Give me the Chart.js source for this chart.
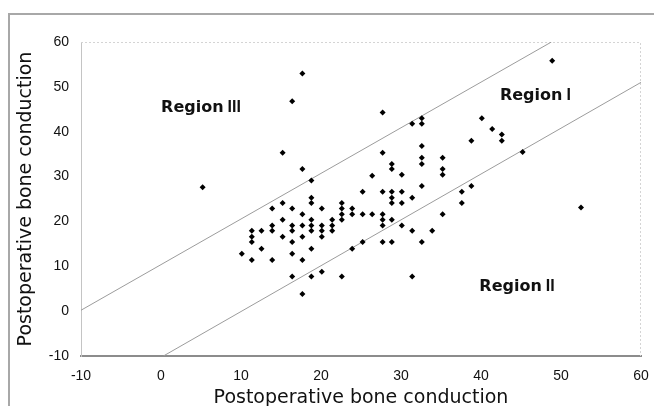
<!DOCTYPE html>
<html lang="en">
<head>
<meta charset="UTF-8">
<meta name="viewport" content="width=device-width, initial-scale=1.0">
<title>Postoperative bone conduction</title>
<script src="https://cdn.jsdelivr.net/npm/chart.js"></script>
<style>
    html, body { margin: 0; padding: 0; background: #fff; }
    body { width: 654px; height: 406px; position: relative; overflow: hidden; }
    .frame {
        position: absolute; left: 8px; top: 13px;
        width: 700px; height: 500px;
        border: 2px solid #a8a8a8;
    }
    .chart-box { position: absolute; left: 0; top: 0; width: 654px; height: 406px; }
</style>
</head>
<body>
<div class="frame"></div>
<div class="chart-box"><canvas id="boneChart"></canvas></div>
<script>
// scatter points
const xValues = [
    5.2,
    10.1,
    11.35, 11.35, 11.35, 11.35,
    12.56, 12.56,
    13.9, 13.9, 13.9, 13.9,
    15.2, 15.2, 15.2, 15.2,
    16.4, 16.4, 16.4, 16.4, 16.4, 16.4, 16.4,
    17.67, 17.67, 17.67, 17.67, 17.67, 17.67, 17.67,
    18.8, 18.8, 18.8, 18.8, 18.8, 18.8, 18.8, 18.8,
    20.1, 20.1, 20.1, 20.1, 20.1,
    21.4, 21.4, 21.4,
    22.6, 22.6, 22.6, 22.6, 22.6,
    23.9, 23.9, 23.9,
    25.2, 25.2, 25.2,
    26.4, 26.4,
    27.7, 27.7, 27.7, 27.7, 27.7, 27.7, 27.7,
    28.85, 28.85, 28.85, 28.85, 28.85, 28.85, 28.85,
    30.1, 30.1, 30.1, 30.1,
    31.4, 31.4, 31.4, 31.4,
    32.6, 32.6, 32.6, 32.6, 32.6, 32.6, 32.6,
    33.9,
    35.2, 35.2, 35.2, 35.2,
    37.6, 37.6,
    38.8, 38.8,
    40.1,
    41.4,
    42.6, 42.6,
    45.2,
    48.9,
    52.5
];
const yValues = [
    27.6,
    12.8,
    17.9, 16.6, 15.4, 11.4,
    17.9, 13.9,
    22.9, 19.1, 17.9, 11.4,
    35.3, 24.1, 20.4, 16.6,
    46.8, 22.9, 19.1, 17.9, 15.4, 12.8, 7.7,
    53.0, 31.7, 21.6, 19.1, 16.6, 11.4, 3.8,
    29.1, 25.3, 24.1, 20.4, 19.1, 17.9, 13.9, 7.7,
    22.9, 19.1, 17.9, 16.6, 8.8,
    20.4, 19.1, 17.9,
    24.1, 22.9, 21.6, 20.4, 7.7,
    22.9, 21.6, 13.9,
    26.6, 21.6, 15.4,
    30.2, 21.6,
    44.3, 35.3, 26.6, 21.6, 20.4, 19.1, 15.4,
    32.8, 31.7, 26.6, 25.3, 24.1, 20.4, 15.4,
    30.4, 26.6, 24.1, 19.1,
    41.8, 25.3, 17.9, 7.7,
    43.0, 41.8, 36.8, 34.2, 32.8, 27.9, 15.4,
    17.9,
    34.2, 31.7, 30.4, 21.6,
    26.6, 24.1,
    38.0, 27.9,
    43.0,
    40.6,
    39.4, 38.0,
    35.5,
    55.8,
    23.1
];

// the two boundary lines (end points)
const upperLineX = [-10, 48.8];
const upperLineY = [0.2, 60];
const lowerLineX = [0.3, 60];
const lowerLineY = [-10, 51];

const axisTicks = [-10, 0, 10, 20, 30, 40, 50, 60];
const axisTitle = 'Postoperative bone conduction';

// region names: word + roman numeral, anchored in data units (baseline)
const regionWords = ['Region', 'Region', 'Region'];
const regionNumerals = ['III', 'I', 'II'];
const regionX = [5.0, 46.8, 44.5];
const regionY = [44.5, 47.1, 4.5];

const points = xValues.map((x, i) => ({ x: x, y: yValues[i] }));
const toLine = (xs, ys) => xs.map((x, i) => ({ x: x, y: ys[i] }));

const regionPlugin = {
    id: 'regionPlugin',
    beforeDatasetsDraw(chart) {
        // faint dotted top / right edge of the plot box
        const { ctx, chartArea } = chart;
        ctx.save();
        ctx.strokeStyle = '#d4d4d4';
        ctx.lineWidth = 1;
        ctx.setLineDash([2, 2]);
        ctx.beginPath();
        ctx.moveTo(chartArea.left, chartArea.top + 0.5);
        ctx.lineTo(chartArea.right - 0.5, chartArea.top + 0.5);
        ctx.lineTo(chartArea.right - 0.5, chartArea.bottom);
        ctx.stroke();
        ctx.restore();
    },
    afterDatasetsDraw(chart) {
        const { ctx, scales } = chart;
        const wordFont = 'bold 16px "DejaVu Sans"';
        const numFont = 'bold 16px "Liberation Sans Narrow", "Liberation Sans"';
        const gap = 4;
        ctx.save();
        ctx.fillStyle = '#111';
        ctx.textAlign = 'left';
        ctx.textBaseline = 'alphabetic';
        regionWords.forEach((w, i) => {
            ctx.font = wordFont;
            const w1 = ctx.measureText(w).width;
            ctx.font = numFont;
            const w2 = ctx.measureText(regionNumerals[i]).width;
            const px = scales.x.getPixelForValue(regionX[i]) - (w1 + gap + w2) / 2;
            const py = scales.y.getPixelForValue(regionY[i]);
            ctx.font = wordFont;
            ctx.fillText(w, px, py);
            ctx.font = numFont;
            ctx.fillText(regionNumerals[i], px + w1 + gap, py);
        });
        ctx.restore();
    }
};

const xTickFont = { family: '"Liberation Sans", Arial, sans-serif', size: 14, lineHeight: 2 };
const yTickFont = { family: '"Liberation Sans", Arial, sans-serif', size: 14 };
const titleFont = { family: '"DejaVu Sans", sans-serif', size: 19, lineHeight: 1 };

new Chart(document.getElementById('boneChart').getContext('2d'), {
    type: 'scatter',
    data: {
        datasets: [
            {
                label: 'patients',
                data: points,
                pointStyle: 'rectRot',
                pointRadius: 3,
                backgroundColor: '#000',
                borderColor: '#000',
                borderWidth: 0
            },
            {
                label: 'upper',
                data: toLine(upperLineX, upperLineY),
                showLine: true,
                pointRadius: 0,
                borderColor: '#9c9c9c',
                borderWidth: 1
            },
            {
                label: 'lower',
                data: toLine(lowerLineX, lowerLineY),
                showLine: true,
                pointRadius: 0,
                borderColor: '#9c9c9c',
                borderWidth: 1
            }
        ]
    },
    options: {
        responsive: true,
        maintainAspectRatio: false,
        animation: false,
        layout: { padding: { left: 0, right: 13, top: 42, bottom: 0 } },
        plugins: {
            legend: { display: false },
            tooltip: { enabled: false }
        },
        scales: {
            x: {
                type: 'linear',
                min: -10,
                max: 60,
                afterFit: s => { s.height = 50; s.paddingRight = 0; s.paddingLeft = 0; },
                afterBuildTicks: s => { s.ticks = axisTicks.map(v => ({ value: v })); },
                grid: { display: false, drawTicks: false },
                border: { display: true, color: '#8c8c8c', width: 2 },
                ticks: { color: '#111', font: xTickFont, padding: 6 },
                title: { display: true, text: axisTitle, color: '#111', font: titleFont, padding: { top: 0, bottom: -1.5 } }
            },
            y: {
                type: 'linear',
                min: -10,
                max: 60,
                afterFit: s => { s.width = 81; },
                afterBuildTicks: s => { s.ticks = axisTicks.map(v => ({ value: v })); },
                grid: { display: false, drawTicks: false },
                border: { display: true, color: '#c4c4c4', width: 1 },
                ticks: { color: '#111', font: yTickFont, padding: 12 },
                title: { display: true, text: axisTitle, color: '#111', font: titleFont, padding: { top: 16.5, bottom: 0 } }
            }
        }
    },
    plugins: [regionPlugin]
});
</script>
</body>
</html>
